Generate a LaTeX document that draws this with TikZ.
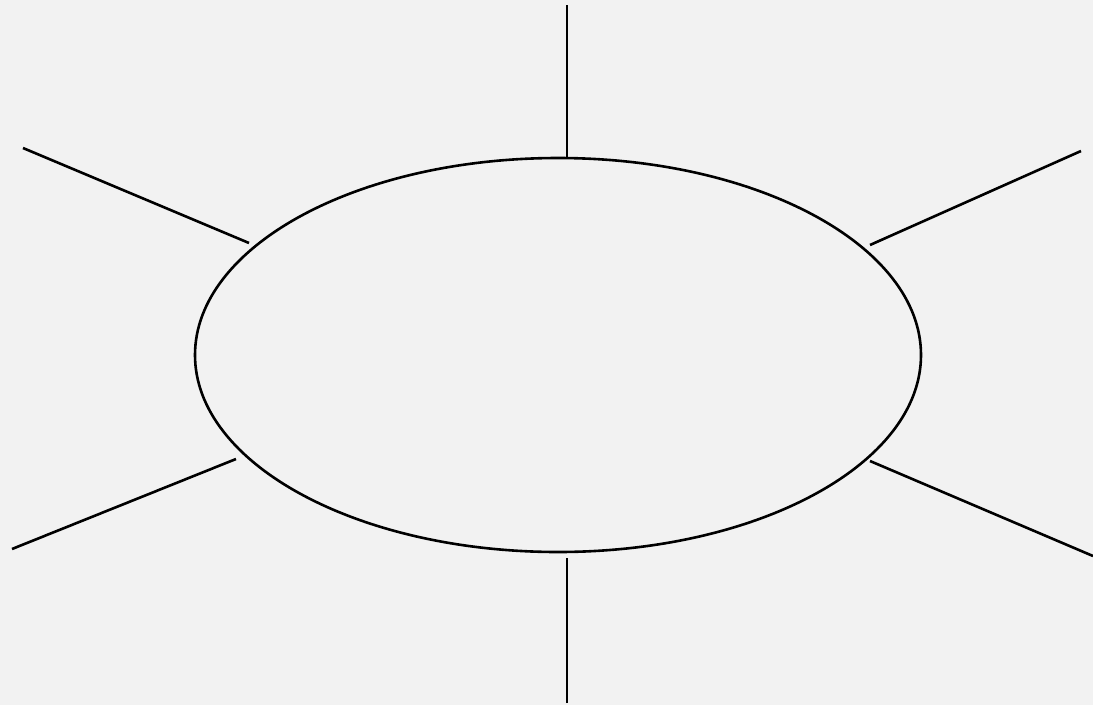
\documentclass[tikz,border=0pt]{standalone}
\usetikzlibrary{shapes.geometric}
\begin{document}
\begin{tikzpicture}[x=1pt,y=-1pt,
  ray/.style={line width=2.6pt,black},
  oval/.style={ellipse,draw=black,line width=2.6pt,inner sep=0pt,outer sep=0pt,minimum width=726pt,minimum height=394pt}]
\fill[black!5] (0,0) rectangle (1093,705);
\useasboundingbox (0,0) rectangle (1093,705);
\node[oval] (e) at (558,355) {};
\coordinate (t1) at (567,5);     \coordinate (t2) at (567,158);
\coordinate (b1) at (567,703);   \coordinate (b2) at (567,558);
\coordinate (ul1) at (23,148);   \coordinate (ul2) at (249,243);
\coordinate (ur1) at (1081,151); \coordinate (ur2) at (870,245);
\coordinate (ll1) at (12,549);   \coordinate (ll2) at (236,459);
\coordinate (lr1) at (1093,556); \coordinate (lr2) at (870,461);
\draw[ray] (t1) -- (t2);
\draw[ray] (b1) -- (b2);
\draw[ray] (ul1) -- (ul2);
\draw[ray] (ur1) -- (ur2);
\draw[ray] (ll1) -- (ll2);
\draw[ray] (lr1) -- (lr2);
\end{tikzpicture}
\end{document}
